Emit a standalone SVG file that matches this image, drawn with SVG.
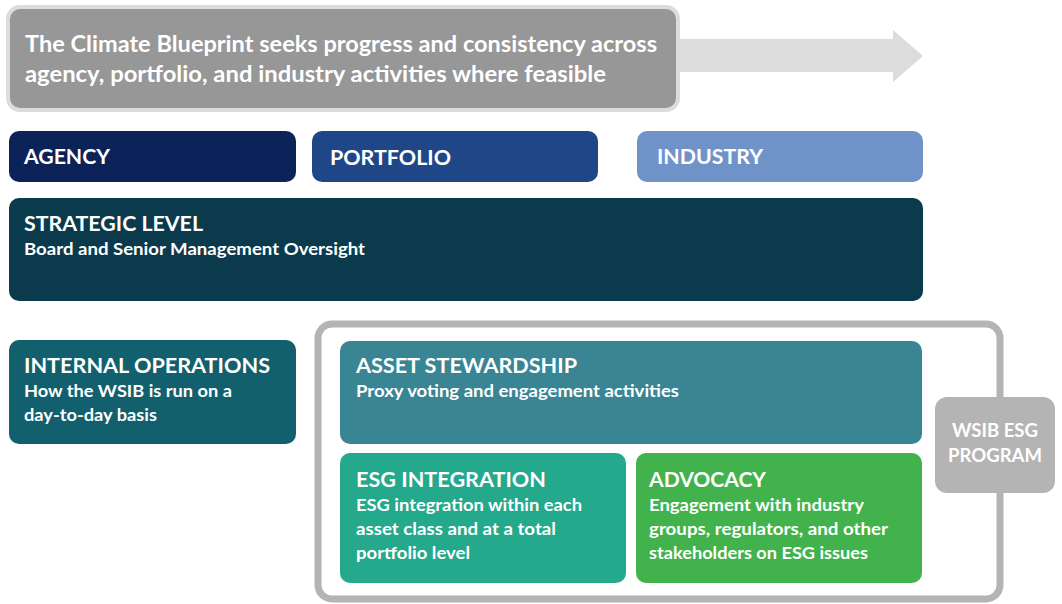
<svg xmlns="http://www.w3.org/2000/svg" width="1062" height="604" viewBox="0 0 1062 604">
  <style>
    text { font-family: Lato, "Open Sans", "Liberation Sans", sans-serif; font-weight: bold; fill: #ffffff; }
    .head { font-size: 22px; }
    .title { font-size: 21px; }
    .sub { font-size: 17px; }
    .tag { font-size: 19px; }
  </style>
  <rect width="1062" height="604" fill="#ffffff"/>

  <!-- arrow behind the headline box -->
  <g id="connectors">
    <polygon points="670,39 893,39 893,30 923,56 893,82 893,72 670,72" fill="#dcdcdc"/>
  </g>

  <g id="headline">
    <rect x="8" y="7" width="670" height="103" rx="12" fill="#979797" stroke="#dcdcdc" stroke-width="4"/>
    <text class="head" x="25" y="52" textLength="632" lengthAdjust="spacingAndGlyphs">The Climate Blueprint seeks progress and consistency across</text>
    <text class="head" x="25" y="82" textLength="581" lengthAdjust="spacingAndGlyphs">agency, portfolio, and industry activities where feasible</text>
  </g>

  <g id="agency">
    <rect x="9" y="131" width="287" height="51" rx="10" fill="#0b2358"/>
    <text class="title" x="24" y="164" textLength="86" lengthAdjust="spacingAndGlyphs">AGENCY</text>
  </g>
  <g id="portfolio">
    <rect x="312" y="131" width="286" height="51" rx="10" fill="#1f4788"/>
    <text class="title" x="330" y="165" textLength="121" lengthAdjust="spacingAndGlyphs">PORTFOLIO</text>
  </g>
  <g id="industry">
    <rect x="637" y="131" width="286" height="51" rx="10" fill="#6f93c9"/>
    <text class="title" x="657" y="164" textLength="106" lengthAdjust="spacingAndGlyphs">INDUSTRY</text>
  </g>

  <g id="strategic-level">
    <rect x="9" y="198" width="914" height="103" rx="10" fill="#0b3a4c"/>
    <text class="title" x="24" y="231" textLength="179" lengthAdjust="spacingAndGlyphs">STRATEGIC LEVEL</text>
    <text class="sub" x="24" y="255" textLength="341" lengthAdjust="spacingAndGlyphs">Board and Senior Management Oversight</text>
  </g>

  <g id="internal-operations">
    <rect x="9" y="340" width="287" height="104" rx="10" fill="#125f6e"/>
    <text class="title" x="24" y="373" textLength="246" lengthAdjust="spacingAndGlyphs">INTERNAL OPERATIONS</text>
    <text class="sub" x="24" y="397" textLength="208" lengthAdjust="spacingAndGlyphs">How the WSIB is run on a</text>
    <text class="sub" x="24" y="421" textLength="133" lengthAdjust="spacingAndGlyphs">day-to-day basis</text>
  </g>

  <!-- programme frame -->
  <g id="esg-program-frame">
    <rect x="318" y="324" width="682" height="275" rx="14" fill="none" stroke="#b4b4b4" stroke-width="7"/>
  </g>

  <g id="asset-stewardship">
    <rect x="340" y="341" width="582" height="103" rx="10" fill="#3a8593"/>
    <text class="title" x="356" y="373" textLength="221" lengthAdjust="spacingAndGlyphs">ASSET STEWARDSHIP</text>
    <text class="sub" x="356" y="397" textLength="323" lengthAdjust="spacingAndGlyphs">Proxy voting and engagement activities</text>
  </g>

  <g id="esg-integration">
    <rect x="340" y="453" width="286" height="130" rx="10" fill="#24a98c"/>
    <text class="title" x="356" y="487" textLength="190" lengthAdjust="spacingAndGlyphs">ESG INTEGRATION</text>
    <text class="sub" x="356" y="511" textLength="226" lengthAdjust="spacingAndGlyphs">ESG integration within each</text>
    <text class="sub" x="356" y="535" textLength="200" lengthAdjust="spacingAndGlyphs">asset class and at a total</text>
    <text class="sub" x="356" y="559" textLength="114" lengthAdjust="spacingAndGlyphs">portfolio level</text>
  </g>

  <g id="advocacy">
    <rect x="636" y="453" width="286" height="130" rx="10" fill="#42b34c"/>
    <text class="title" x="649" y="487" textLength="117" lengthAdjust="spacingAndGlyphs">ADVOCACY</text>
    <text class="sub" x="649" y="511" textLength="215" lengthAdjust="spacingAndGlyphs">Engagement with industry</text>
    <text class="sub" x="649" y="535" textLength="239" lengthAdjust="spacingAndGlyphs">groups, regulators, and other</text>
    <text class="sub" x="649" y="559" textLength="219" lengthAdjust="spacingAndGlyphs">stakeholders on ESG issues</text>
  </g>

  <g id="wsib-esg-program">
    <rect x="935" y="397" width="120" height="96" rx="12" fill="#b4b4b4"/>
    <text class="tag" x="995" y="437" text-anchor="middle" textLength="86" lengthAdjust="spacingAndGlyphs">WSIB ESG</text>
    <text class="tag" x="995" y="462" text-anchor="middle" textLength="94" lengthAdjust="spacingAndGlyphs">PROGRAM</text>
  </g>
</svg>
